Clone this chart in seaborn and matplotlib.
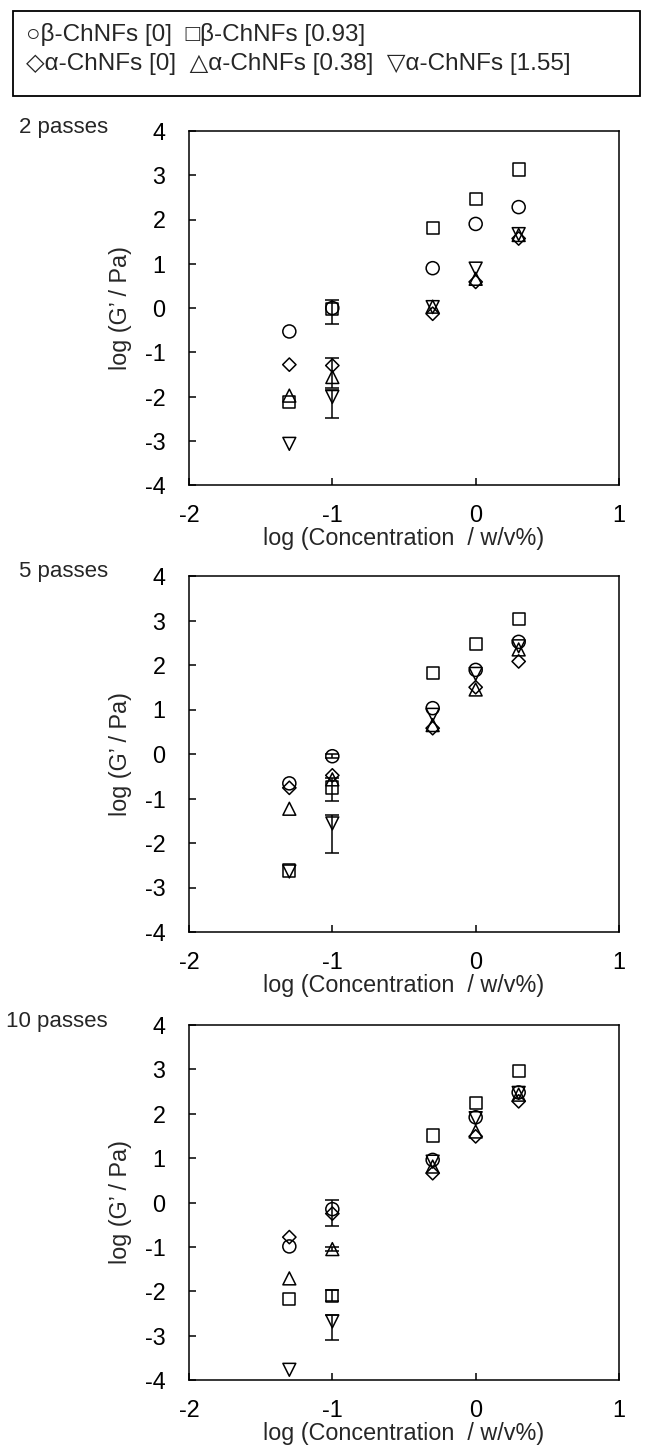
import matplotlib
matplotlib.use("Agg")
import matplotlib.pyplot as plt
import numpy as np
import pandas as pd
import seaborn as sns

# x positions: log of concentration (0.05, 0.1, 0.5, 1, 2 w/v%)
log_conc = [-1.3, -1.0, -0.3, 0.0, 0.3]

samples = ["β-ChNFs [0]", "β-ChNFs [0.93]", "α-ChNFs [0]", "α-ChNFs [0.38]", "α-ChNFs [1.55]"]
marker_shapes = ["o", "s", "D", "^", "v"]
marker_sizes = [88, 78, 46, 86, 86]
legend_glyphs = ["○", "□", "◇", "△", "▽"]
panel_names = ["2 passes", "5 passes", "10 passes"]

# log G' values, one row per sample (same order as samples)
g_2passes = [
    [-0.53, 0.00, 0.90, 1.90, 2.28],
    [-2.12, -0.02, 1.80, 2.47, 3.13],
    [-1.28, -1.30, -0.13, 0.59, 1.57],
    [-1.98, -1.56, 0.03, 0.66, 1.65],
    [-3.07, -2.01, 0.02, 0.89, 1.67],
]
g_5passes = [
    [-0.66, -0.05, 1.03, 1.89, 2.52],
    [-2.62, -0.75, 1.82, 2.47, 3.04],
    [-0.76, -0.48, 0.58, 1.50, 2.08],
    [-1.23, -0.57, 0.65, 1.45, 2.35],
    [-2.64, -1.56, 0.88, 1.80, 2.42],
]
g_10passes = [
    [-0.99, -0.15, 0.96, 1.92, 2.48],
    [-2.18, -2.10, 1.51, 2.24, 2.97],
    [-0.78, -0.25, 0.66, 1.49, 2.28],
    [-1.71, -1.05, 0.81, 1.60, 2.43],
    [-3.77, -2.68, 0.92, 1.90, 2.47],
]

# error bars only at log c = -1 (lower, upper), per sample
err_lo_2 = [0.00, 0.34, 0.50, 0.00, 0.48]
err_hi_2 = [0.00, 0.20, 0.18, 0.00, 0.15]
err_lo_5 = [0.05, 0.30, 0.00, 0.00, 0.67]
err_hi_5 = [0.05, 0.20, 0.00, 0.00, 0.18]
err_lo_10 = [0.38, 0.13, 0.00, 0.05, 0.42]
err_hi_10 = [0.20, 0.12, 0.00, 0.05, 0.15]

panel_values = [g_2passes, g_5passes, g_10passes]
panel_err = [(err_lo_2, err_hi_2), (err_lo_5, err_hi_5), (err_lo_10, err_hi_10)]
err_x = log_conc[1]

sns.set_theme(style="ticks")
plt.rcParams["font.family"] = ["Liberation Sans", "DejaVu Sans"]
plt.rcParams["axes.linewidth"] = 1.1
plt.rcParams["axes.unicode_minus"] = False

FS = 16.8
W, H = 646, 1454
fig = plt.figure(figsize=(W / 100, H / 100), dpi=100)

# axes boxes in pixels: left, top, right, bottom
boxes = [(189, 131, 619, 485), (189, 576, 619, 932), (189, 1025, 619, 1380)]

for (l, t, r, b), name, vals, (elo, ehi) in zip(boxes, panel_names, panel_values, panel_err):
    ax = fig.add_axes([l / W, 1 - b / H, (r - l) / W, (b - t) / H])
    rows = []
    for s, ys in zip(samples, vals):
        for x, y in zip(log_conc, ys):
            rows.append({"sample": s, "logc": x, "logg": y})
    df = pd.DataFrame(rows)

    for i, s in enumerate(samples):
        if elo[i] > 0 or ehi[i] > 0:
            ax.errorbar([err_x], [vals[i][1]], yerr=[[elo[i]], [ehi[i]]], fmt="none",
                        ecolor="black", elinewidth=1.1, capsize=5, capthick=1.1, zorder=2)
        sns.scatterplot(data=df[df["sample"] == s], x="logc", y="logg", ax=ax,
                        marker=marker_shapes[i], s=marker_sizes[i],
                        facecolor="none", edgecolor="black", linewidth=1.1,
                        legend=False, zorder=3)

    ax.set_xlim(-2, 1)
    ax.set_ylim(-4, 4)
    ax.set_xticks([-2, -1, 0, 1])
    ax.set_yticks(range(-4, 5))
    ax.tick_params(direction="in", length=5, width=1.1, labelsize=FS,
                   top=False, right=False, colors="black")
    ax.tick_params(axis="y", pad=17)
    ax.tick_params(axis="x", pad=14)
    for sp in ax.spines.values():
        sp.set_visible(True)
        sp.set_color("black")
    ax.set_xlabel("log (Concentration  / w/v%)", fontsize=FS, labelpad=0)
    ax.set_ylabel("log (G’ / Pa)", fontsize=FS, labelpad=9)
    fig.text(108 / W, 1 - (t - 4) / H, name, ha="right", va="center", fontsize=16)

# legend box at the top, drawn as text with shape glyphs
fig.patches.append(plt.Rectangle((13 / W, 1 - 96 / H), 627 / W, 85 / H,
                                 transform=fig.transFigure, fill=False,
                                 edgecolor="black", linewidth=1.3))
line1 = legend_glyphs[0] + samples[0] + "  " + legend_glyphs[1] + samples[1]
line2 = "  ".join(g + s for g, s in zip(legend_glyphs[2:], samples[2:]))
fig.text(26 / W, 1 - 35 / H, line1, ha="left", va="center", fontsize=17.5)
fig.text(26 / W, 1 - 64 / H, line2, ha="left", va="center", fontsize=17.5)

fig.savefig("out.png", dpi=100)
